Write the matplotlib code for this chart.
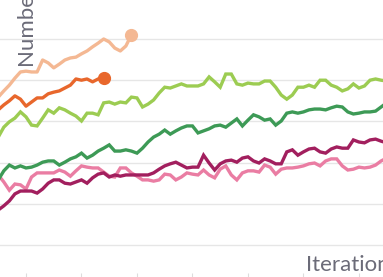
import numpy as np
import matplotlib.pyplot as plt

# iteration index shared by all runs
iters = np.arange(5, 76)

peach = [45.9, 47.4, 48.8, 50.5, 52.0, 52.2, 52.0, 52.0, 54.9, 54.2, 53.0, 53.9, 54.9,
         55.4, 55.6, 56.4, 57.1, 58.1, 59.0, 60.0, 59.3, 57.8, 57.1, 58.3, 61.0]
orange = [42.8, 44.0, 45.0, 46.2, 45.4, 43.7, 44.7, 45.7, 45.7, 46.7, 47.1, 47.4, 48.1,
          48.8, 50.3, 50.0, 50.3, 49.6, 50.3, 50.5]
lime = [36.2, 38.6, 39.9, 40.8, 42.3, 41.1, 39.1, 38.9, 40.8, 42.8, 42.0, 43.3, 42.8,
        42.0, 41.3, 40.1, 42.0, 42.0, 41.6, 44.5, 44.7, 44.2, 44.7, 44.5, 45.9, 45.7,
        43.5, 44.2, 45.2, 46.9, 48.3, 48.1, 48.6, 49.1, 48.6, 48.6, 48.6, 49.1, 50.8,
        49.6, 48.3, 51.5, 51.5, 49.1, 48.8, 49.3, 49.1, 49.1, 49.8, 49.8, 48.3, 46.4,
        45.4, 46.4, 48.3, 48.3, 48.8, 48.3, 50.0, 50.0, 48.8, 48.3, 47.4, 47.9, 49.1,
        48.1, 48.6, 50.0, 50.3, 50.0, 49.8]
green = [25.8, 28.0, 29.4, 28.7, 29.2, 28.7, 28.9, 29.4, 30.1, 30.4, 30.4, 29.4, 30.1,
         30.9, 31.4, 32.3, 31.1, 31.8, 32.8, 33.5, 34.3, 32.8, 32.8, 33.1, 32.8, 32.3,
         33.5, 35.0, 36.2, 36.9, 37.9, 36.9, 37.7, 38.4, 38.9, 38.9, 37.2, 37.7, 38.2,
         38.9, 39.1, 38.6, 39.6, 40.6, 38.9, 40.3, 41.6, 41.1, 40.3, 40.6, 39.1, 40.1,
         42.0, 42.3, 42.0, 42.3, 42.8, 43.0, 43.0, 42.8, 43.3, 43.7, 43.5, 42.3, 41.8,
         42.0, 42.3, 42.3, 42.5, 43.5, 44.5]
plum = [18.5, 19.5, 20.7, 22.4, 23.1, 23.1, 23.1, 22.6, 23.6, 25.0, 25.8, 25.8, 25.0,
        24.8, 25.3, 25.8, 25.0, 26.3, 27.2, 27.5, 26.5, 27.0, 26.7, 27.0, 27.0, 27.0,
        27.0, 27.0, 27.5, 28.4, 29.2, 29.7, 30.1, 29.4, 28.7, 28.9, 28.9, 31.8, 29.9,
        28.2, 29.7, 30.4, 30.6, 30.1, 31.1, 31.4, 30.4, 29.9, 30.9, 30.4, 29.7, 29.7,
        32.6, 33.1, 31.8, 32.6, 33.3, 33.5, 32.6, 32.3, 33.3, 33.8, 33.5, 33.5, 35.5,
        35.0, 34.8, 35.5, 35.7, 35.2, 34.8]
pink = [27.0, 25.3, 23.3, 24.8, 24.6, 23.6, 26.5, 27.5, 27.5, 27.5, 27.5, 28.2, 27.7,
        26.7, 28.0, 29.2, 28.9, 28.7, 28.7, 27.7, 26.7, 26.5, 28.7, 28.7, 27.5, 26.7,
        25.8, 25.8, 25.5, 25.8, 27.2, 27.0, 25.8, 26.5, 27.5, 27.2, 27.0, 28.2, 27.0,
        26.3, 28.4, 29.2, 27.0, 25.8, 27.5, 28.0, 28.0, 27.7, 29.4, 28.9, 27.2, 28.4,
        28.7, 28.7, 28.9, 29.2, 29.7, 29.9, 29.2, 30.4, 30.9, 30.9, 29.2, 28.2, 28.4,
        28.9, 28.7, 28.9, 29.4, 30.4, 31.1]

plt.rcParams['font.family'] = ['Lato', 'DejaVu Sans']

fig = plt.figure(figsize=(3.83, 2.77), dpi=100)
ax = fig.add_axes([-0.077, 0.0144, 1.159, 0.9935])

ax.plot(iters, pink, color='#ea7da3', lw=2.4, solid_joinstyle='miter', zorder=3)
ax.plot(iters, plum, color='#a21f5e', lw=2.4, solid_joinstyle='miter', zorder=3)
ax.plot(iters, green, color='#3d9a56', lw=2.4, solid_joinstyle='miter', zorder=3)
ax.plot(iters, lime, color='#9ccc52', lw=2.4, solid_joinstyle='miter', zorder=3)
ax.plot(iters[:len(orange)], orange, color='#e8672c', lw=2.4, zorder=3)
ax.plot(iters[len(orange) - 1], orange[-1], 'o', color='#e8672c', ms=8.5, zorder=4)
ax.plot(iters[:len(peach)], peach, color='#f4b893', lw=2.4, zorder=3)
ax.plot(iters[len(peach) - 1], peach[-1], 'o', color='#f4b893', ms=8.5, zorder=4)

ax.set_xlim(0, 80)
ax.set_ylim(3.2, 70)
ax.set_xticks(np.arange(10, 80, 10))
ax.set_yticks(np.arange(10, 70, 10))
ax.set_xticklabels([])
ax.set_yticklabels([])
ax.grid(axis='y', color='#e6e6e6', lw=1)
ax.tick_params(axis='x', length=3, color='#dddddd', direction='out')
ax.tick_params(axis='y', length=0)
for s in ax.spines.values():
    s.set_visible(False)

fig.text(38 / 383, (277 - 67) / 277, 'Number of', rotation=90, ha='right', va='bottom',
         fontsize=16, color='#6b6b78')
fig.text(306 / 383, (277 - 271) / 277, 'Iterations', ha='left', va='baseline',
         fontsize=16, color='#6b6b78')

fig.savefig('out.png', dpi=100)
